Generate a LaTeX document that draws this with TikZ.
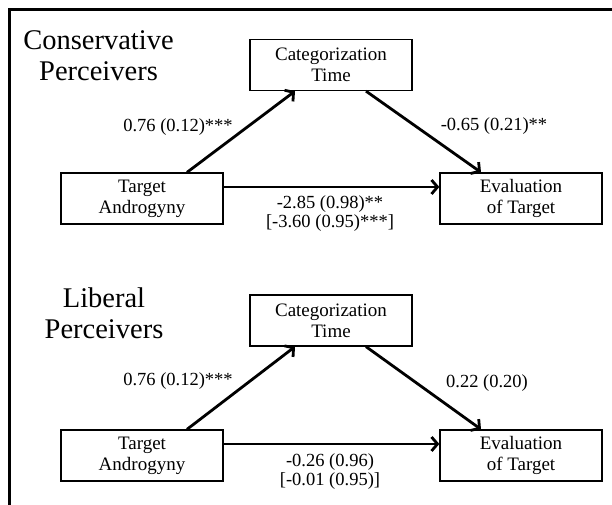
\documentclass[tikz,border=0pt]{standalone}
\usepackage{fontspec}
\setmainfont{Liberation Serif}
\usetikzlibrary{calc,arrows.meta}
\newcommand{\titlefont}{\fontsize{28.5}{31}\selectfont}
\newcommand{\boxfont}{\fontsize{19}{21}\selectfont}
\newcommand{\coeffont}{\fontsize{18.5}{19}\selectfont}

\begin{document}
\begin{tikzpicture}[x=1pt,y=1pt,
		box/.style={draw, line width=1.3pt, minimum width=162pt, minimum height=51pt, inner sep=0pt, align=center, font=\boxfont},
		link/.style={line width=2.8pt, -{Straight Barb[length=6pt,width=14pt]}},
		coef/.style={inner sep=0pt, align=center, font=\coeffont}]
		\useasboundingbox (0,0) rectangle (612,505);
		\draw[line width=3pt] (9.3,0) -- (9.3,495) -- (612,495);
		% conservative
		\node[inner sep=0pt, align=center, font=\titlefont] (titleA) at (98.5,449.6) {Conservative\\Perceivers};
		\node[box] (catA) at (331,440) {Categorization\\Time};
		\node[box] (tgtA) at (142,306.5) {Target\\Androgyny};
		\node[box] (evalA) at (521,306.5) {Evaluation\\of Target};
		\draw[link] ($(tgtA.north)+(45,0)$) -- ($(catA.south)+(-36,0)$);
		\draw[link] ($(catA.south)+(35,0)$) -- ($(evalA.north)+(-40,0)$);
		\draw[link] ($(tgtA.east)+(0,11.5)$) -- ($(evalA.west)+(0,11.5)$);
		\node[coef] (aA) at (178,378) {0.76 (0.12)***};
		\node[coef] (bA) at (494,379) {-0.65 (0.21)**};
		\node[coef] (cA) at (330,291) {-2.85 (0.98)**\\{}[-3.60 (0.95)***]};
		% liberal
		\node[inner sep=0pt, align=center, font=\titlefont] (titleB) at (104,192) {Liberal\\Perceivers};
		\node[box] (catB) at (331,184.5) {Categorization\\Time};
		\node[box] (tgtB) at (142,49.5) {Target\\Androgyny};
		\node[box] (evalB) at (521,49.5) {Evaluation\\of Target};
		\draw[link] ($(tgtB.north)+(45,0)$) -- ($(catB.south)+(-36,0)$);
		\draw[link] ($(catB.south)+(35,0)$) -- ($(evalB.north)+(-40,0)$);
		\draw[link] ($(tgtB.east)+(0,11.5)$) -- ($(evalB.west)+(0,11.5)$);
		\node[coef] (aB) at (178,124) {0.76 (0.12)***};
		\node[coef] (bB) at (487,122) {0.22 (0.20)};
		\node[coef] (cB) at (330,33.5) {-0.26 (0.96)\\{}[-0.01 (0.95)]};
\end{tikzpicture}
\end{document}
